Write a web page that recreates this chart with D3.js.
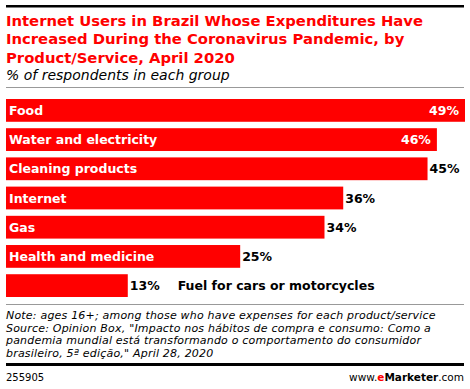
<!DOCTYPE html>
<html>
<head>
  <script src="https://d3js.org/d3.v7.min.js"></script>
  <style>
    body { margin: 0; background: #fff; }
    svg { display: block; }
  </style>
</head>
<body>
  <div id="chart"></div>
  <script>
    // Data
    const categories = ["Food", "Water and electricity", "Cleaning products", "Internet", "Gas", "Health and medicine", "Fuel for cars or motorcycles"];
    const values = [49, 46, 45, 36, 34, 25, 13];

    const titleLines = [
      "Internet Users in Brazil Whose Expenditures Have",
      "Increased During the Coronavirus Pandemic, by",
      "Product/Service, April 2020"
    ];
    const subtitle = "% of respondents in each group";
    const noteLines = [
      "Note: ages 16+; among those who have expenses for each product/service",
      "Source: Opinion Box, \"Impacto nos hábitos de compra e consumo: Como a",
      "pandemia mundial está transformando o comportamento do consumidor",
      "brasileiro, 5ª edição,\" April 28, 2020"
    ];

    const W = 470, H = 389;
    const red = "#ff0000";
    const font = "'DejaVu Sans', Verdana, sans-serif";

    const svg = d3.select("#chart")
      .append("svg")
      .attr("width", W)
      .attr("height", H);

    // Top rule
    svg.append("rect").attr("x", 6).attr("y", 5).attr("width", 458).attr("height", 2.5).attr("fill", "#000");

    // Title
    svg.append("g").selectAll("text")
      .data(titleLines)
      .join("text")
      .attr("x", 6)
      .attr("y", (d, i) => 26 + i * 18.3)
      .style("font-family", font)
      .style("font-weight", "bold")
      .style("font-size", "14.8px")
      .style("fill", red)
      .text(d => d);

    svg.append("text")
      .attr("x", 6)
      .attr("y", 80)
      .style("font-family", font)
      .style("font-style", "italic")
      .style("font-size", "14px")
      .style("fill", "#000")
      .text(subtitle);

    svg.append("rect").attr("x", 6).attr("y", 87).attr("width", 458).attr("height", 1).attr("fill", "#999");

    // Scales
    const x = d3.scaleLinear().domain([0, 49]).range([6, 465]);
    const y = d3.scaleBand().domain(categories).range([99, 297]).paddingInner(0.22).paddingOuter(0);

    const labelStyle = sel => sel
      .style("font-family", font)
      .style("font-weight", "bold")
      .style("font-size", "12.5px");

    const rows = svg.append("g").selectAll("g")
      .data(categories.map((c, i) => ({ c, v: values[i] })))
      .join("g");

    rows.append("rect")
      .attr("x", x(0))
      .attr("y", d => y(d.c))
      .attr("width", d => x(d.v) - x(0))
      .attr("height", y.bandwidth())
      .attr("fill", red);

    rows.each(function(d) {
      const g = d3.select(this);
      const cy = y(d.c) + y.bandwidth() / 2 + 4.5;
      const barEnd = x(d.v);

      const val = g.append("text").call(labelStyle).text(d.v + "%");
      const valW = val.node().getComputedTextLength();
      let valEnd;
      if (barEnd + 2 + valW > 464) {
        val.attr("x", barEnd - 6).attr("y", cy).attr("text-anchor", "end").style("fill", "#fff");
        valEnd = barEnd;
      } else {
        val.attr("x", barEnd + 2).attr("y", cy).style("fill", "#000");
        valEnd = barEnd + 2 + valW;
      }

      const lab = g.append("text").call(labelStyle).text(d.c);
      const labW = lab.node().getComputedTextLength();
      if (x(0) + 3 + labW < barEnd - 6 - (valEnd === barEnd ? valW + 6 : 0)) {
        lab.attr("x", x(0) + 3).attr("y", cy).style("fill", "#fff");
      } else {
        lab.attr("x", valEnd + 18).attr("y", cy).style("fill", "#000");
      }
    });

    // Footer
    svg.append("rect").attr("x", 6).attr("y", 304).attr("width", 458).attr("height", 1).attr("fill", "#999");

    svg.append("g").selectAll("text")
      .data(noteLines)
      .join("text")
      .attr("x", 6)
      .attr("y", (d, i) => 319 + i * 12.6)
      .style("font-family", font)
      .style("font-style", "italic")
      .style("font-size", "11px")
      .style("letter-spacing", "0.2px")
      .style("fill", "#000")
      .text(d => d);

    svg.append("rect").attr("x", 6).attr("y", 363).attr("width", 458).attr("height", 3).attr("fill", "#000");

    svg.append("text")
      .attr("x", 6)
      .attr("y", 381)
      .style("font-family", font)
      .style("font-size", "10px")
      .style("fill", "#000")
      .text("255905");

    const brand = svg.append("text")
      .attr("x", 464)
      .attr("y", 381)
      .attr("text-anchor", "end")
      .style("font-family", font)
      .style("font-size", "10.5px")
      .style("fill", "#000");
    brand.append("tspan").text("www.");
    brand.append("tspan").style("fill", red).style("font-weight", "bold").text("e");
    brand.append("tspan").style("font-weight", "bold").text("Marketer");
    brand.append("tspan").text(".com");
  </script>
</body>
</html>
